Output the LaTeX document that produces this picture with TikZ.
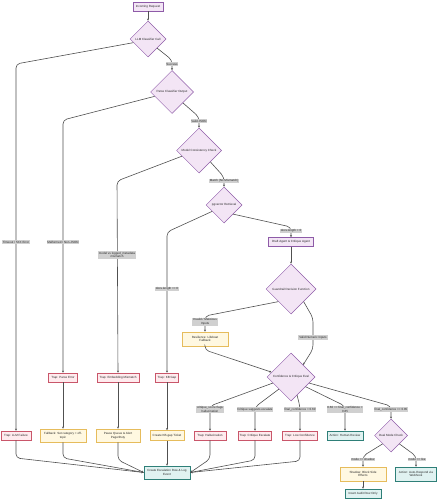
\documentclass[tikz,border=0pt]{standalone}
\usepackage{fontspec}
\setmainfont{Liberation Sans}
\usetikzlibrary{shapes.geometric,calc,arrows.meta}
\definecolor{pfill}{HTML}{F3E5F5}
\definecolor{pline}{HTML}{8E5BA8}
\definecolor{tfill}{HTML}{FFEBEE}
\definecolor{tline}{HTML}{C9566A}
\definecolor{yfill}{HTML}{FFF8E1}
\definecolor{yline}{HTML}{E6BC5C}
\definecolor{gfill}{HTML}{E0F2F1}
\definecolor{gline}{HTML}{2E7F78}
\definecolor{lblfill}{HTML}{D0D0D0}
\definecolor{edgecol}{HTML}{505050}
\begin{document}
\begin{tikzpicture}[x=1pt,y=-1pt,
  font=\fontsize{3}{3.7}\selectfont,
  every node/.style={text=black!85, align=center},
  decision/.style={diamond, aspect=1, draw=pline, fill=pfill, line width=0.5pt, inner sep=0pt, minimum width=#1, minimum height=#1},
  procbox/.style={rectangle, draw=pline, fill=pfill, line width=0.5pt, inner sep=1pt},
  trapbox/.style={rectangle, draw=tline, fill=tfill, line width=0.5pt, inner sep=1pt},
  fallbox/.style={rectangle, draw=yline, fill=yfill, line width=0.5pt, inner sep=1pt},
  actbox/.style={rectangle, draw=gline, fill=gfill, line width=0.5pt, inner sep=1pt},
  lbl/.style={fill=lblfill, inner sep=0.8pt},
  conn/.style={draw=edgecol, line width=0.6pt, rounded corners=4pt},
  arr/.style={conn, -{Stealth[length=2.2pt,width=2pt]}}
]
\useasboundingbox (0,0) rectangle (442,500);

% ---------- nodes ----------
\node[procbox, minimum width=30pt, minimum height=9pt] (req) at (148,6.5) {Incoming Request};
\node[decision=36pt] (llm) at (148,39) {LLM Classifier Call};
\node[decision=43pt] (parse) at (172,92) {Parse Classifier Output};
\node[decision=45pt] (mcc) at (199,150.5) {Model Consistency Check};
\node[decision=36pt] (pgv) at (224,205) {pgvector Retrieval};
\node[procbox, minimum width=45pt, minimum height=9pt] (draft) at (291,242) {Draft Agent \& Critique Agent};
\node[decision=50pt] (guard) at (291,289) {Guardrail Decision Function};
\node[fallbox, minimum width=46pt, minimum height=14pt] (resil) at (205,339) {Resilience: Lifeboat\\Fallback};
\node[decision=48pt] (conf) at (291,377) {Confidence \& Critique Eval};

\node[trapbox, minimum width=29pt, minimum height=9pt] (parseerr) at (63,377.5) {Trap: Parse Error};
\node[trapbox, minimum width=42pt, minimum height=9pt] (embed) at (118,377.5) {Trap: Embedding Mismatch};
\node[trapbox, minimum width=23pt, minimum height=9pt] (kbgap) at (167,377.5) {Trap: KB Gap};

\node[trapbox, minimum width=30pt, minimum height=9pt] (llmfail) at (16,435.5) {Trap: LLM Failure};
\node[fallbox, minimum width=46pt, minimum height=13pt] (fallback) at (63,435.5) {Fallback: Set category = off-\\topic};
\node[fallbox, minimum width=44pt, minimum height=13pt] (pause) at (118,435.5) {Pause Queue \& Alert\\PagerDuty};
\node[fallbox, minimum width=34pt, minimum height=10pt] (ticket) at (167,435.5) {Create KB-gap Ticket};

\node[trapbox, minimum width=32pt, minimum height=9pt] (hall) at (210,435.5) {Trap: Hallucination};
\node[trapbox, minimum width=33pt, minimum height=9pt] (crit) at (255,435.5) {Trap: Critique Escalate};
\node[trapbox, minimum width=35pt, minimum height=9pt] (low) at (300,435.5) {Trap: Low Confidence};
\node[actbox, minimum width=36pt, minimum height=9pt] (human) at (345,435.5) {Action: Human Review};
\node[decision=33pt] (dual) at (391,435.5) {Dual Mode Check};

\node[fallbox, minimum width=46pt, minimum height=14pt] (shadow) at (363,474) {Shadow: Block Side\\Effects};
\node[actbox, minimum width=41pt, minimum height=14pt] (auto) at (416,474) {Action: Auto-Respond via\\Webhook};
\node[actbox, minimum width=36pt, minimum height=9pt] (audit) at (363,493.5) {Insert Audit Row Only};

\node[actbox, minimum width=46pt, minimum height=13pt] (esc) at (167,472.5) {Create Escalation Row \& Log\\Event};

% ---------- bend coordinates ----------
\coordinate (bLlm) at (16,64);
\coordinate (bParse) at (63,120);
\coordinate (bMcc) at (117,181);
\coordinate (bPgv) at (167,232);
\coordinate (bValidA) at (313,318);
\coordinate (bValidB) at (313,349);
\coordinate (bResil) at (205,350);
\coordinate (eLlm) at (16,458);
\coordinate (eFall) at (63,458);
\coordinate (ePause) at (118,460);
\coordinate (eHall) at (210,459);
\coordinate (eCrit) at (255,460);
\coordinate (eLow) at (300,461);

% ---------- edges (drawn under labels) ----------
\draw[arr] (req.south) -- (llm.north);
\draw[arr] (llm.south east) -- (172,60) -- (parse.north);
\draw[arr] (parse.south east) -- (199,117) -- (mcc.north);
\draw[arr] (mcc.south east) -- (224,177) -- (pgv.north);
\draw[arr] (pgv.south east) -- (291,227) -- (draft.north);
\draw[arr] (draft.south) -- (guard.north);
\draw[arr] (guard.south west) -- (205,316) -- (resil.north);
\draw[arr] (guard.south east) -- (bValidA) -- (bValidB) -- (conf.north east);
\draw[arr] (resil.south) -- (bResil) -- ($(conf.west)!0.2!(conf.north)$);

\draw[arr] ($(llm.west)!0.2!(llm.south)$) -- (bLlm) -- (llmfail.north);
\draw[arr] ($(parse.west)!0.2!(parse.south)$) -- (bParse) -- (parseerr.north);
\draw[arr] ($(mcc.west)!0.25!(mcc.south)$) -- (bMcc) -- (embed.north);
\draw[arr] ($(pgv.west)!0.35!(pgv.south)$) -- (bPgv) -- (kbgap.north);

\draw[arr] (parseerr.south) -- (fallback.north);
\draw[arr] (embed.south) -- (pause.north);
\draw[arr] (kbgap.south) -- (ticket.north);

\draw[arr] ($(conf.west)!0.25!(conf.south)$) -- (210,406) -- (hall.north);
\draw[arr] ($(conf.west)!0.5!(conf.south)$) -- (255,407) -- (crit.north);
\draw[arr] ($(conf.south)!0.25!(conf.east)$) -- (300,407) -- (low.north);
\draw[arr] ($(conf.south)!0.6!(conf.east)$) -- (345,406) -- (human.north);
\draw[arr] ($(conf.south)!0.75!(conf.east)$) -- (391,406) -- (dual.north);

\draw[arr] (dual.south west) -- (363,456) -- (shadow.north);
\draw[arr] (dual.south east) -- (416,456) -- (auto.north);
\draw[arr] (shadow.south) -- (audit.north);

\draw[arr] (llmfail.south) -- (eLlm) -- (esc.west);
\draw[arr] (fallback.south) -- (eFall) -- (esc.west);
\draw[arr] (pause.south) -- (ePause) -- (esc.west);
\draw[arr] (ticket.south) -- (esc.north);
\draw[arr] (hall.south) -- (eHall) -- (esc.east);
\draw[arr] (crit.south) -- (eCrit) -- (esc.east);
\draw[arr] (low.south) -- (eLow) -- (esc.east);

% ---------- edge labels ----------
\node[lbl] (lSuccess) at (172,64) {Success};
\node[lbl] (lJson) at (199,121) {Valid JSON};
\node[lbl] (lMatch) at (224,181) {Match (No Mismatch)};
\node[lbl] (lDocsPos) at (291,231) {docs.length > 0};
\node[lbl] (lInvalid) at (205,322) {Invalid / Malicious\\Inputs};
\node[lbl] (lValid) at (313,337.5) {Valid Numeric Inputs};
\node[lbl] (lTimeout) at (16,242) {Timeout / 5XX Error};
\node[lbl] (lMalformed) at (63,242) {Malformed / Non-JSON};
\node[lbl] (lMismatch) at (117,255) {model vs logged\_metadata\\mismatch};
\node[lbl] (lDocsZero) at (167,289) {docs.length == 0};
\node[lbl] (lHall) at (210,409.5) {critique\_score flags\\hallucination};
\node[lbl] (lCrit) at (255,409.5) {Critique suggests escalate};
\node[lbl] (lLow) at (300,409.5) {final\_confidence < 0.60};
\node[lbl] (lMid) at (345,409.5) {0.60 <= final\_confidence <\\0.85};
\node[lbl] (lHigh) at (391,409.5) {final\_confidence >= 0.85};
\node[lbl] (lShadow) at (363,459.5) {mode == shadow};
\node[lbl] (lLive) at (417,459.5) {mode == live};
\end{tikzpicture}
\end{document}
